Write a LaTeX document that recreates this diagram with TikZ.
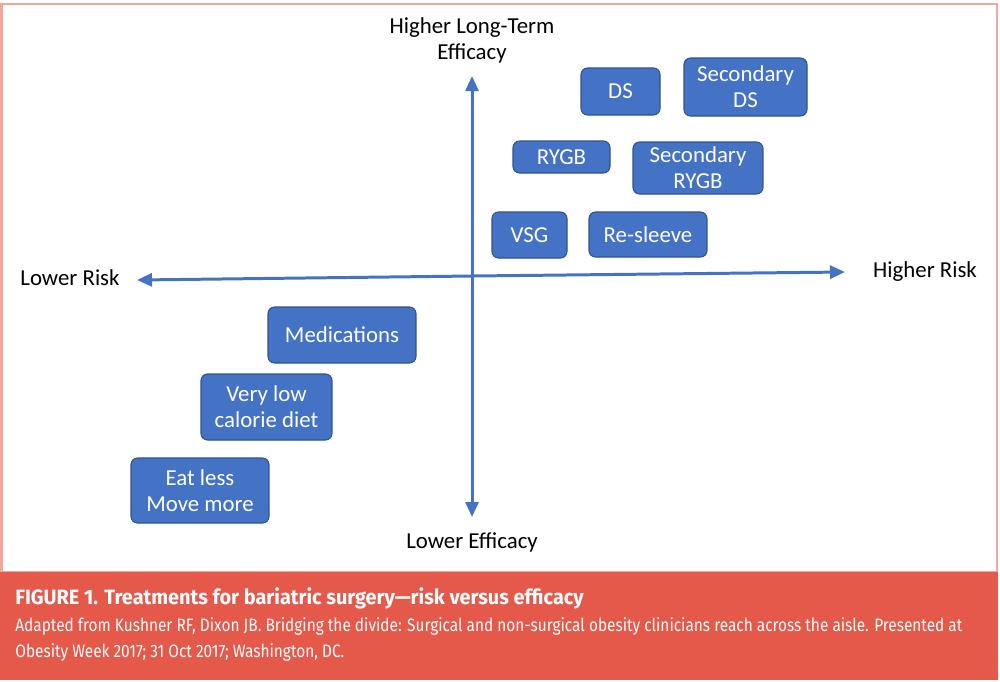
\documentclass[tikz,border=0pt]{standalone}
\usepackage{fontspec}
\setmainfont{Carlito}
\newfontfamily\capbold[FakeStretch=0.96]{Fira Sans Bold}
\newfontfamily\capfont[FakeStretch=0.86]{Fira Sans}
\usetikzlibrary{arrows.meta, positioning}
\definecolor{officeblue}{HTML}{4472C4}
\definecolor{boxedge}{HTML}{2F528F}
\definecolor{capred}{HTML}{E5594B}
\definecolor{frame}{HTML}{F2A59B}

\begin{document}
\begin{tikzpicture}[
    x=0.02cm, y=-0.02cm,
    treat/.style={rectangle, rounded corners=0.13cm, draw=boxedge, line width=0.6pt, fill=officeblue, text=white, align=center, inner sep=0pt, font=\fontsize{13}{14.8}\selectfont},
    axis/.style={draw=officeblue, line width=1.7pt, -{Triangle[length=0.3cm, width=0.26cm]}},
    lbl/.style={align=center, font=\fontsize{13}{14.8}\selectfont},
    captitle/.style={anchor=base west, text=white, inner sep=0pt, font=\capbold\fontsize{11.8}{14}\selectfont},
    captext/.style={anchor=base west, text=white, inner sep=0pt, align=left, font=\capfont\fontsize{10.2}{14.7}\selectfont}
]
\useasboundingbox (0,0) rectangle (1000,681);

% frame and caption bar
\draw[frame, line width=1.2pt] (1.5,4) rectangle (997,572);
\fill[capred] (0,572) rectangle (998,680);

% axes
\coordinate (origin) at (472,276);
\coordinate (top) at (472,76);
\coordinate (bottom) at (472,517);
\coordinate (left) at (137,280);
\coordinate (right) at (845,272);
\draw[axis] (origin) -- (top);
\draw[axis] (origin) -- (bottom);
\draw[axis] (origin) -- (left);
\draw[axis] (origin) -- (right);

% axis labels
\node[lbl] (eff-hi) at (472,40) {Higher Long-Term\\Efficacy};
\node[lbl] (eff-lo) at (472,542) {Lower Efficacy};
\node[lbl] (risk-lo) at (70,278) {Lower Risk};
\node[lbl] (risk-hi) at (925,272) {Higher Risk};

% surgical options
\node[treat, minimum width=1.58cm, minimum height=0.94cm] (ds) at (620.5,91.5) {DS};
\node[treat, minimum width=2.46cm, minimum height=1.16cm] (secds) at (745.5,87) {Secondary\\DS};
\node[treat, minimum width=1.94cm, minimum height=0.64cm] (rygb) at (561.5,157) {RYGB};
\node[treat, minimum width=2.60cm, minimum height=1.04cm] (secrygb) at (698,168) {Secondary\\RYGB};
\node[treat, minimum width=1.50cm, minimum height=0.92cm] (vsg) at (529.5,235) {VSG};
\node[treat, minimum width=2.36cm, minimum height=0.90cm] (resleeve) at (648,234.5) {Re-sleeve};

% non-surgical options
\node[treat, minimum width=2.96cm, minimum height=1.12cm] (meds) at (342,335) {Medications};
\node[treat, minimum width=2.62cm, minimum height=1.32cm] (vlcd) at (266.5,407) {Very low\\calorie diet};
\node[treat, minimum width=2.76cm, minimum height=1.30cm] (eat) at (200,490.5) {Eat less\\Move more};

% caption
\node[captitle] (fig) at (15,604) {FIGURE 1. Treatments for bariatric surgery—risk versus efficacy};
\node[captext] (src1) at (15,631) {Adapted from Kushner RF, Dixon JB. Bridging the divide: Surgical and non-surgical obesity clinicians reach across the aisle. Presented at};
\node[captext] (src2) at (15,657) {Obesity Week 2017; 31 Oct 2017; Washington, DC.};
\end{tikzpicture}
\end{document}
